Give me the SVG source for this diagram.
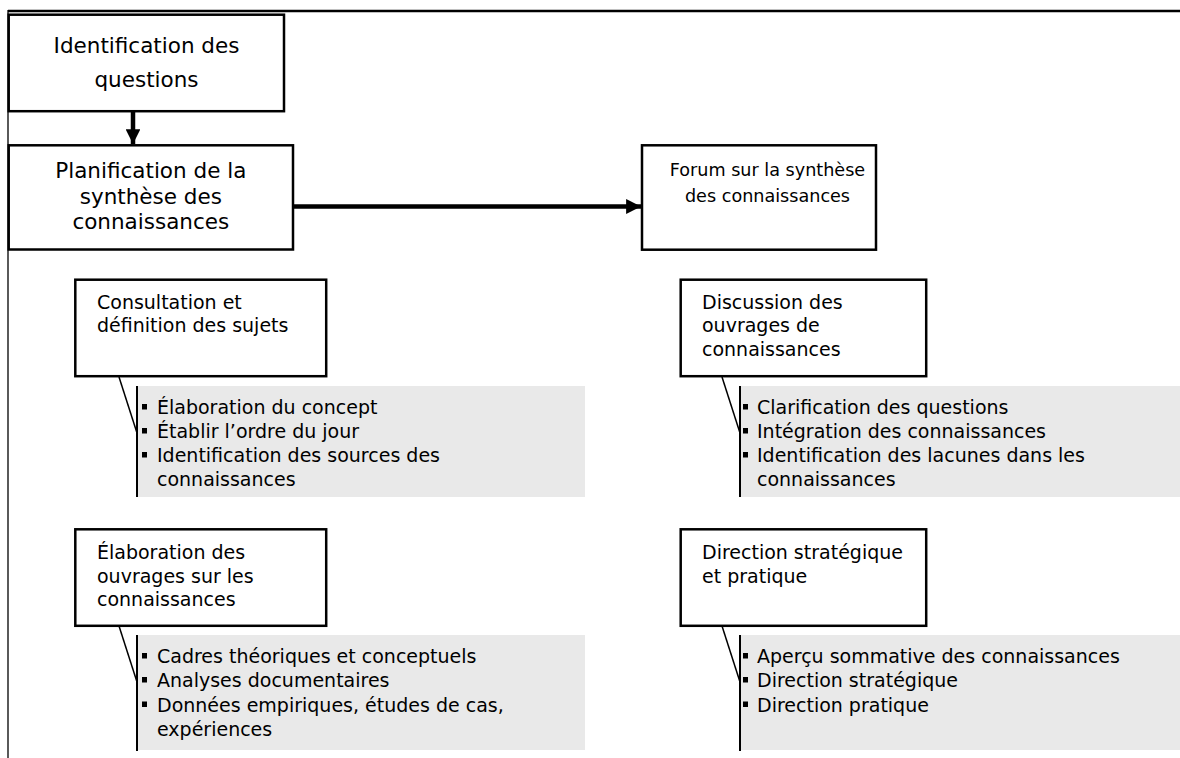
<svg xmlns="http://www.w3.org/2000/svg" width="1180" height="758" viewBox="0 0 1180 758">
<defs>
<style>
.box{fill:#fff;stroke:#000;stroke-width:2.5}
.big{font-family:"DejaVu Sans","Liberation Sans",sans-serif;font-size:21.5px;fill:#000;text-anchor:middle}
.mid{font-family:"DejaVu Sans","Liberation Sans",sans-serif;font-size:17.6px;fill:#000;text-anchor:middle}
.sm{font-family:"DejaVu Sans","Liberation Sans",sans-serif;font-size:19px;fill:#000}
.panel{fill:#e9e9e9}
.edge{stroke:#000;stroke-width:2}
.diag{stroke:#000;stroke-width:1.5}
.bul{fill:#000}
.flow{stroke:#000;stroke-width:4.5;fill:none}
</style>
<marker id="ah" viewBox="0 0 10 10" refX="10" refY="5" markerWidth="3.3" markerHeight="3.3" markerUnits="strokeWidth" orient="auto">
<path d="M0,0 L10,5 L0,10 z" fill="#000"/>
</marker>
</defs>
<rect x="0" y="0" width="1180" height="758" fill="#fff"/>
<g id="frame">
<line x1="8" y1="11" x2="1180" y2="11" stroke="#000" stroke-width="2.5"/>
<line x1="8" y1="10" x2="8" y2="758" stroke="#000" stroke-width="1.3"/>
</g>
<g id="connectors">
<line class="flow" x1="133" y1="112" x2="133" y2="144" marker-end="url(#ah)"/>
<line class="flow" x1="294" y1="206.5" x2="641" y2="206.5" marker-end="url(#ah)"/>
<line class="diag" x1="119" y1="377" x2="137" y2="433"/>
<line class="diag" x1="119" y1="626" x2="137" y2="682"/>
<line class="diag" x1="722" y1="377" x2="740" y2="433"/>
<line class="diag" x1="722" y1="626" x2="740" y2="682"/>
</g>
<g id="n-identification">
<rect class="box" x="8.7" y="14.7" width="275.3" height="96.5"/>
<text class="big" x="146.5" y="53">Identification des</text>
<text class="big" x="146.5" y="87">questions</text>
</g>
<g id="n-planification">
<rect class="box" x="8.7" y="145.3" width="284.3" height="104.2"/>
<text class="big" x="150.8" y="178">Planification de la</text>
<text class="big" x="150.8" y="204">synthèse des</text>
<text class="big" x="150.8" y="229">connaissances</text>
</g>
<g id="n-forum">
<rect class="box" x="642" y="145.3" width="234" height="104.4"/>
<text class="mid" x="767.5" y="176">Forum sur la synthèse</text>
<text class="mid" x="767.5" y="202">des connaissances</text>
</g>
<g id="n-consultation">
<rect class="box" x="75.3" y="279.7" width="250.9" height="96.5"/>
<text class="sm" x="97" y="309">Consultation et</text>
<text class="sm" x="97" y="332">définition des sujets</text>
</g>
<g id="n-consultation-list">
<rect class="panel" x="137" y="386" width="448" height="111"/>
<line class="edge" x1="137" y1="386" x2="137" y2="497"/>
<rect class="bul" x="142" y="404" width="5" height="5.5"/>
<text class="sm" x="157" y="414">Élaboration du concept</text>
<rect class="bul" x="142" y="428" width="5" height="5.5"/>
<text class="sm" x="157" y="438">Établir l’ordre du jour</text>
<rect class="bul" x="142" y="452" width="5" height="5.5"/>
<text class="sm" x="157" y="462">Identification des sources des</text>
<text class="sm" x="157" y="486">connaissances</text>
</g>
<g id="n-elaboration">
<rect class="box" x="75.3" y="529.3" width="250.9" height="96.5"/>
<text class="sm" x="97" y="559">Élaboration des</text>
<text class="sm" x="97" y="582.5">ouvrages sur les</text>
<text class="sm" x="97" y="606">connaissances</text>
</g>
<g id="n-elaboration-list">
<rect class="panel" x="137" y="635" width="448" height="115"/>
<line class="edge" x1="137" y1="635" x2="137" y2="751"/>
<rect class="bul" x="142" y="653" width="5" height="5.5"/>
<text class="sm" x="157" y="663">Cadres théoriques et conceptuels</text>
<rect class="bul" x="142" y="677" width="5" height="5.5"/>
<text class="sm" x="157" y="687">Analyses documentaires</text>
<rect class="bul" x="142" y="701.5" width="5" height="5.5"/>
<text class="sm" x="157" y="711.5">Données empiriques, études de cas,</text>
<text class="sm" x="157" y="735.5">expériences</text>
</g>
<g id="n-discussion">
<rect class="box" x="680.7" y="279.7" width="245.5" height="96.5"/>
<text class="sm" x="702" y="309">Discussion des</text>
<text class="sm" x="702" y="332">ouvrages de</text>
<text class="sm" x="702" y="355.5">connaissances</text>
</g>
<g id="n-discussion-list">
<rect class="panel" x="740" y="386" width="440" height="111"/>
<line class="edge" x1="740" y1="386" x2="740" y2="497"/>
<rect class="bul" x="743" y="404" width="5" height="5.5"/>
<text class="sm" x="757" y="414">Clarification des questions</text>
<rect class="bul" x="743" y="428" width="5" height="5.5"/>
<text class="sm" x="757" y="438">Intégration des connaissances</text>
<rect class="bul" x="743" y="452" width="5" height="5.5"/>
<text class="sm" x="757" y="462">Identification des lacunes dans les</text>
<text class="sm" x="757" y="486">connaissances</text>
</g>
<g id="n-direction">
<rect class="box" x="680.7" y="529.3" width="245.5" height="96.5"/>
<text class="sm" x="702" y="559">Direction stratégique</text>
<text class="sm" x="702" y="582.5">et pratique</text>
</g>
<g id="n-direction-list">
<rect class="panel" x="740" y="635" width="440" height="115"/>
<line class="edge" x1="740" y1="635" x2="740" y2="751"/>
<rect class="bul" x="743" y="653" width="5" height="5.5"/>
<text class="sm" x="757" y="663">Aperçu sommative des connaissances</text>
<rect class="bul" x="743" y="677" width="5" height="5.5"/>
<text class="sm" x="757" y="687">Direction stratégique</text>
<rect class="bul" x="743" y="701.5" width="5" height="5.5"/>
<text class="sm" x="757" y="711.5">Direction pratique</text>
</g>
</svg>
